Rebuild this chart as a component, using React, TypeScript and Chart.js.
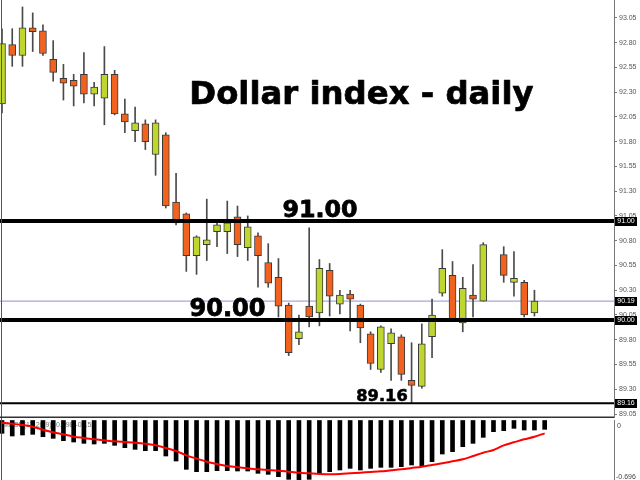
import React, { useEffect, useRef } from "react";
import { Chart, registerables } from "chart.js";

Chart.register(...registerables);

// ---------- data ----------
const openValues: (number | null)[] = [
  92.18, 92.78, 92.67, 92.95, 92.92, 92.63, 92.44, 92.42, 92.48, 92.28,
  92.24, 92.48, 92.08, 91.91, 91.98, 91.67, 91.87, 91.19, 91.07, 90.65,
  90.76, 90.89, 90.89, 91.04, 90.73, 90.85, 90.58, 90.43, 90.15, 89.81,
  90.14, 90.07, 90.5, 90.16, 90.26, 90.15, 89.86, 89.5, 89.76, 89.83,
  89.39, 89.33, 89.83, 90.27, 90.45, 89.97, 90.25, 90.19, null, 90.66,
  90.38, 90.38, 90.07, null,
];
const highValues: (number | null)[] = [
  92.94, 92.94, 93.16, 93.1, 92.98, 92.82, 92.58, 92.48, 92.7, 92.4,
  92.76, 92.52, 92.23, 92.15, 92.02, 92.02, 91.89, 91.48, 91.08, 90.85,
  91.22, 91.0, 91.2, 91.15, 91.05, 90.88, 90.77, 90.62, 90.17, 90.05,
  90.93, 90.61, 90.57, 90.3, 90.3, 90.16, 89.88, 89.94, 89.91, 89.85,
  89.77, 89.96, 90.21, 90.71, 90.59, 90.43, 90.56, 90.78, null, 90.74,
  90.69, 90.4, 90.3, null,
];
const lowValues: (number | null)[] = [
  92.09, 92.56, 92.56, 92.71, 92.67, 92.41, 92.22, 92.16, 92.19, 92.16,
  91.97, 92.07, 91.89, 91.8, 91.72, 91.46, 91.13, 90.96, 90.49, 90.46,
  90.6, 90.74, 90.67, 90.64, 90.6, 90.33, 90.33, 90.03, 89.64, 89.75,
  89.93, 89.94, 90.04, 90.06, 89.89, 89.77, 89.5, 89.47, 89.39, 89.39,
  89.16, 89.31, 89.62, 90.24, 90.01, 89.88, 90.03, 90.19, null, 90.38,
  90.24, 90.03, 90.04, null,
];
const closeValues: (number | null)[] = [
  92.79, 92.67, 92.95, 92.91, 92.69, 92.5, 92.39, 92.36, 92.28, 92.35,
  92.48, 92.08, 92.0, 91.99, 91.8, 91.99, 91.15, 90.98, 90.65, 90.84,
  90.81, 90.96, 90.98, 90.76, 90.94, 90.65, 90.37, 90.14, 89.67, 89.88,
  90.03, 90.52, 90.24, 90.25, 90.21, 89.92, 89.56, 89.93, 89.87, 89.45,
  89.34, 89.76, 90.05, 90.52, 90.01, 90.32, 90.21, 90.76, null, 90.45,
  90.42, 90.05, 90.19, null,
];
const macdHistogram: number[] = [
  -0.16, -0.192, -0.18, -0.172, -0.2, -0.22, -0.248, -0.264, -0.28, -0.288,
  -0.28, -0.304, -0.332, -0.352, -0.368, -0.368, -0.432, -0.492, -0.592, -0.62,
  -0.62, -0.608, -0.608, -0.612, -0.612, -0.64, -0.652, -0.68, -0.712, -0.72,
  -0.712, -0.64, -0.62, -0.6, -0.58, -0.6, -0.58, -0.568, -0.568, -0.56,
  -0.54, -0.552, -0.5, -0.408, -0.38, -0.32, -0.28, -0.208, -0.14, -0.128,
  -0.1, -0.12, -0.12, -0.112,
];
const macdSignal: number[] = [
  -0.032, -0.044, -0.06, -0.08, -0.116, -0.148, -0.172, -0.2, -0.216, -0.232,
  -0.244, -0.256, -0.264, -0.272, -0.284, -0.304, -0.336, -0.372, -0.424, -0.464,
  -0.5, -0.528, -0.552, -0.568, -0.58, -0.592, -0.6, -0.608, -0.62, -0.632,
  -0.64, -0.648, -0.652, -0.648, -0.64, -0.632, -0.624, -0.616, -0.604, -0.592,
  -0.576, -0.56, -0.54, -0.52, -0.496, -0.472, -0.432, -0.392, -0.36, -0.304,
  -0.268, -0.232, -0.2, -0.16,
];
const priceTicks: number[] = [
  89.05, 89.3, 89.55, 89.8, 90.05, 90.3, 90.55, 90.8, 91.05, 91.3, 91.55,
  91.8, 92.05, 92.3, 92.55, 92.8, 93.05,
];
const levelValues: number[] = [91.0, 90.0, 89.16];
const levelTexts: string[] = ["91.00", "90.00", "89.16"];
const currentPrice = 90.19;
const macdMinLabel = -0.696;
const titleText = "Dollar index - daily";
const macdText = "MACD(12,26,9) -0.098 -0.153";

// ---------- layout constants ----------
const X_MIN = -0.195;
const X_MAX = 59.77;
const Y_MIN = 89.01;
const Y_MAX = 93.23;
const MACD_MIN = -0.72;
const MACD_MAX = 0;
const AXIS_W = 26;
const GREEN = "#bfd62e";
const ORANGE = "#f0621e";

function fitText(ctx: CanvasRenderingContext2D, text: string, x: number, baseline: number, width: number, stroke: number) {
  ctx.font = "bold 40px 'DejaVu Sans'";
  const w = ctx.measureText(text).width;
  const size = (40 * (width - stroke)) / w;
  ctx.font = `bold ${size.toFixed(2)}px 'DejaVu Sans'`;
  ctx.fillStyle = "#000";
  ctx.strokeStyle = "#000";
  ctx.lineWidth = stroke;
  ctx.lineJoin = "round";
  ctx.textAlign = "left";
  ctx.textBaseline = "alphabetic";
  if (stroke > 0) ctx.strokeText(text, x + stroke / 2, baseline);
  ctx.fillText(text, x + stroke / 2, baseline);
}

const mainPlugin = {
  id: "mainDecor",
  afterDraw(chart: any) {
    const ctx: CanvasRenderingContext2D = chart.ctx;
    const ys = chart.scales.y;
    ctx.save();
    // left frame
    ctx.fillStyle = "#555";
    ctx.fillRect(1, 0, 1, chart.height);
    // divider to sub window
    ctx.fillStyle = "#333";
    ctx.fillRect(0, chart.height - 1.5, 614, 1.5);
    // price boxes
    const boxes = [levelValues[0], currentPrice, levelValues[1], levelValues[2]];
    const labels = [levelTexts[0], currentPrice.toFixed(2), levelTexts[1], levelTexts[2]];
    boxes.forEach((v, k) => {
      const y = ys.getPixelForValue(v);
      ctx.fillStyle = "#000";
      ctx.fillRect(615, Math.round(y) - 4, 22, 9);
      ctx.fillStyle = "#fff";
      ctx.font = "7px 'Liberation Sans'";
      ctx.textAlign = "center";
      ctx.textBaseline = "middle";
      ctx.fillText(labels[k], 626, Math.round(y) + 0.5);
    });
    // texts
    fitText(ctx, titleText, 189, 104, 345, 0.7);
    fitText(ctx, levelTexts[0], 282, ys.getPixelForValue(levelValues[0]) - 3.5, 76, 0.8);
    fitText(ctx, levelTexts[1], 189, ys.getPixelForValue(levelValues[1]) - 3.5, 77, 0.8);
    fitText(ctx, levelTexts[2], 356, ys.getPixelForValue(levelValues[2]) - 2, 52, 0.6);
    ctx.restore();
  },
};

const macdPlugin = {
  id: "macdDecor",
  beforeDatasetsDraw(chart: any) {
    const ctx: CanvasRenderingContext2D = chart.ctx;
    ctx.save();
    ctx.fillStyle = "#777";
    ctx.font = "7px 'Liberation Sans'";
    ctx.textAlign = "left";
    ctx.textBaseline = "middle";
    ctx.fillText(macdText, 3, 7);
    ctx.restore();
  },
  afterDraw(chart: any) {
    const ctx: CanvasRenderingContext2D = chart.ctx;
    const ys = chart.scales.y;
    ctx.save();
    ctx.fillStyle = "#555";
    ctx.fillRect(1, 0, 1, chart.height);
    ctx.fillStyle = "#444";
    ctx.font = "7px 'Liberation Sans'";
    ctx.textAlign = "left";
    ctx.textBaseline = "middle";
    ctx.fillText("0", 617, ys.getPixelForValue(0) + 6);
    ctx.fillText(macdMinLabel.toFixed(3), 616, ys.getPixelForValue(macdMinLabel) - 1);
    ctx.restore();
  },
};

function axisFit(scale: any) {
  scale.width = AXIS_W;
  scale.paddingTop = 0;
  scale.paddingBottom = 0;
}

export default function App() {
  const mainRef = useRef<HTMLCanvasElement>(null);
  const macdRef = useRef<HTMLCanvasElement>(null);

  useEffect(() => {
    const idx = openValues.map((_, i) => i).filter((i) => openValues[i] != null);
    const bodies = idx.map((i) => {
      const o = openValues[i] as number;
      const c = closeValues[i] as number;
      return { x: i, y: [Math.min(o, c), Math.max(o, c)] };
    });
    const bodyColors = idx.map((i) => ((closeValues[i] as number) >= (openValues[i] as number) ? GREEN : ORANGE));
    const wicks = idx.map((i) => ({ x: i, y: [lowValues[i] as number, highValues[i] as number] }));

    const levelDataset = (v: number, w: number, color: string, order: number) => ({
      type: "line" as const,
      data: [
        { x: X_MIN, y: v },
        { x: X_MAX, y: v },
      ],
      borderColor: color,
      borderWidth: w,
      pointRadius: 0,
      order,
    });

    const main = new Chart(mainRef.current as HTMLCanvasElement, {
      type: "bar",
      data: {
        datasets: [
          levelDataset(levelValues[0], 4, "#000", 0),
          levelDataset(levelValues[1], 4, "#000", 0),
          levelDataset(levelValues[2], 2, "#000", 0),
          {
            type: "bar",
            data: bodies as any,
            backgroundColor: bodyColors,
            borderColor: "#3a3a3a",
            borderWidth: 1,
            borderSkipped: false,
            barThickness: 7,
            grouped: false,
            order: 1,
          } as any,
          {
            type: "bar",
            data: wicks as any,
            backgroundColor: "#4a4a4a",
            borderWidth: 0,
            barThickness: 1,
            grouped: false,
            order: 2,
          } as any,
          levelDataset(currentPrice, 1, "#9090d8", 3),
        ],
      },
      options: {
        animation: false,
        responsive: false,
        maintainAspectRatio: false,
        layout: { padding: 0 },
        plugins: { legend: { display: false }, tooltip: { enabled: false } },
        scales: {
          x: { type: "linear", min: X_MIN, max: X_MAX, display: false, offset: false },
          y: {
            position: "right",
            min: Y_MIN,
            max: Y_MAX,
            afterBuildTicks: (scale: any) => {
              scale.ticks = priceTicks.map((v) => ({ value: v }));
            },
            afterFit: axisFit,
            ticks: {
              autoSkip: false,
              padding: 2,
              color: "#555",
              font: { family: "'Liberation Sans'", size: 7 },
              callback: (v: any) => Number(v).toFixed(2),
            },
            grid: { drawOnChartArea: false, tickLength: 3, color: "#777" },
            border: { display: true, color: "#777", width: 1 },
          },
        },
      } as any,
      plugins: [mainPlugin],
    });

    const macd = new Chart(macdRef.current as HTMLCanvasElement, {
      type: "bar",
      data: {
        datasets: [
          {
            type: "line",
            data: macdSignal.map((v, i) => ({ x: i, y: v })),
            borderColor: "#ff0000",
            borderWidth: 2,
            pointRadius: 0,
            tension: 0.3,
            order: 0,
          } as any,
          {
            type: "bar",
            data: macdHistogram.map((v, i) => ({ x: i, y: v })),
            backgroundColor: "#000",
            barThickness: 4,
            grouped: false,
            order: 1,
          } as any,
        ],
      },
      options: {
        animation: false,
        responsive: false,
        maintainAspectRatio: false,
        layout: { padding: { top: 2, bottom: 0, left: 0, right: 0 } },
        plugins: { legend: { display: false }, tooltip: { enabled: false } },
        scales: {
          x: { type: "linear", min: X_MIN, max: X_MAX, display: false, offset: false },
          y: {
            position: "right",
            min: MACD_MIN,
            max: MACD_MAX,
            afterFit: axisFit,
            ticks: { display: false },
            grid: { drawOnChartArea: false, drawTicks: false },
            border: { display: true, color: "#777", width: 1 },
          },
        },
      } as any,
      plugins: [macdPlugin],
    });

    return () => {
      main.destroy();
      macd.destroy();
    };
  }, []);

  return (
    <div style={{ position: "absolute", left: 0, top: 0, width: 640, height: 480, background: "#fff" }}>
      <canvas ref={mainRef} width={640} height={418} style={{ display: "block", width: 640, height: 418 }} />
      <canvas ref={macdRef} width={640} height={62} style={{ display: "block", width: 640, height: 62 }} />
    </div>
  );
}
